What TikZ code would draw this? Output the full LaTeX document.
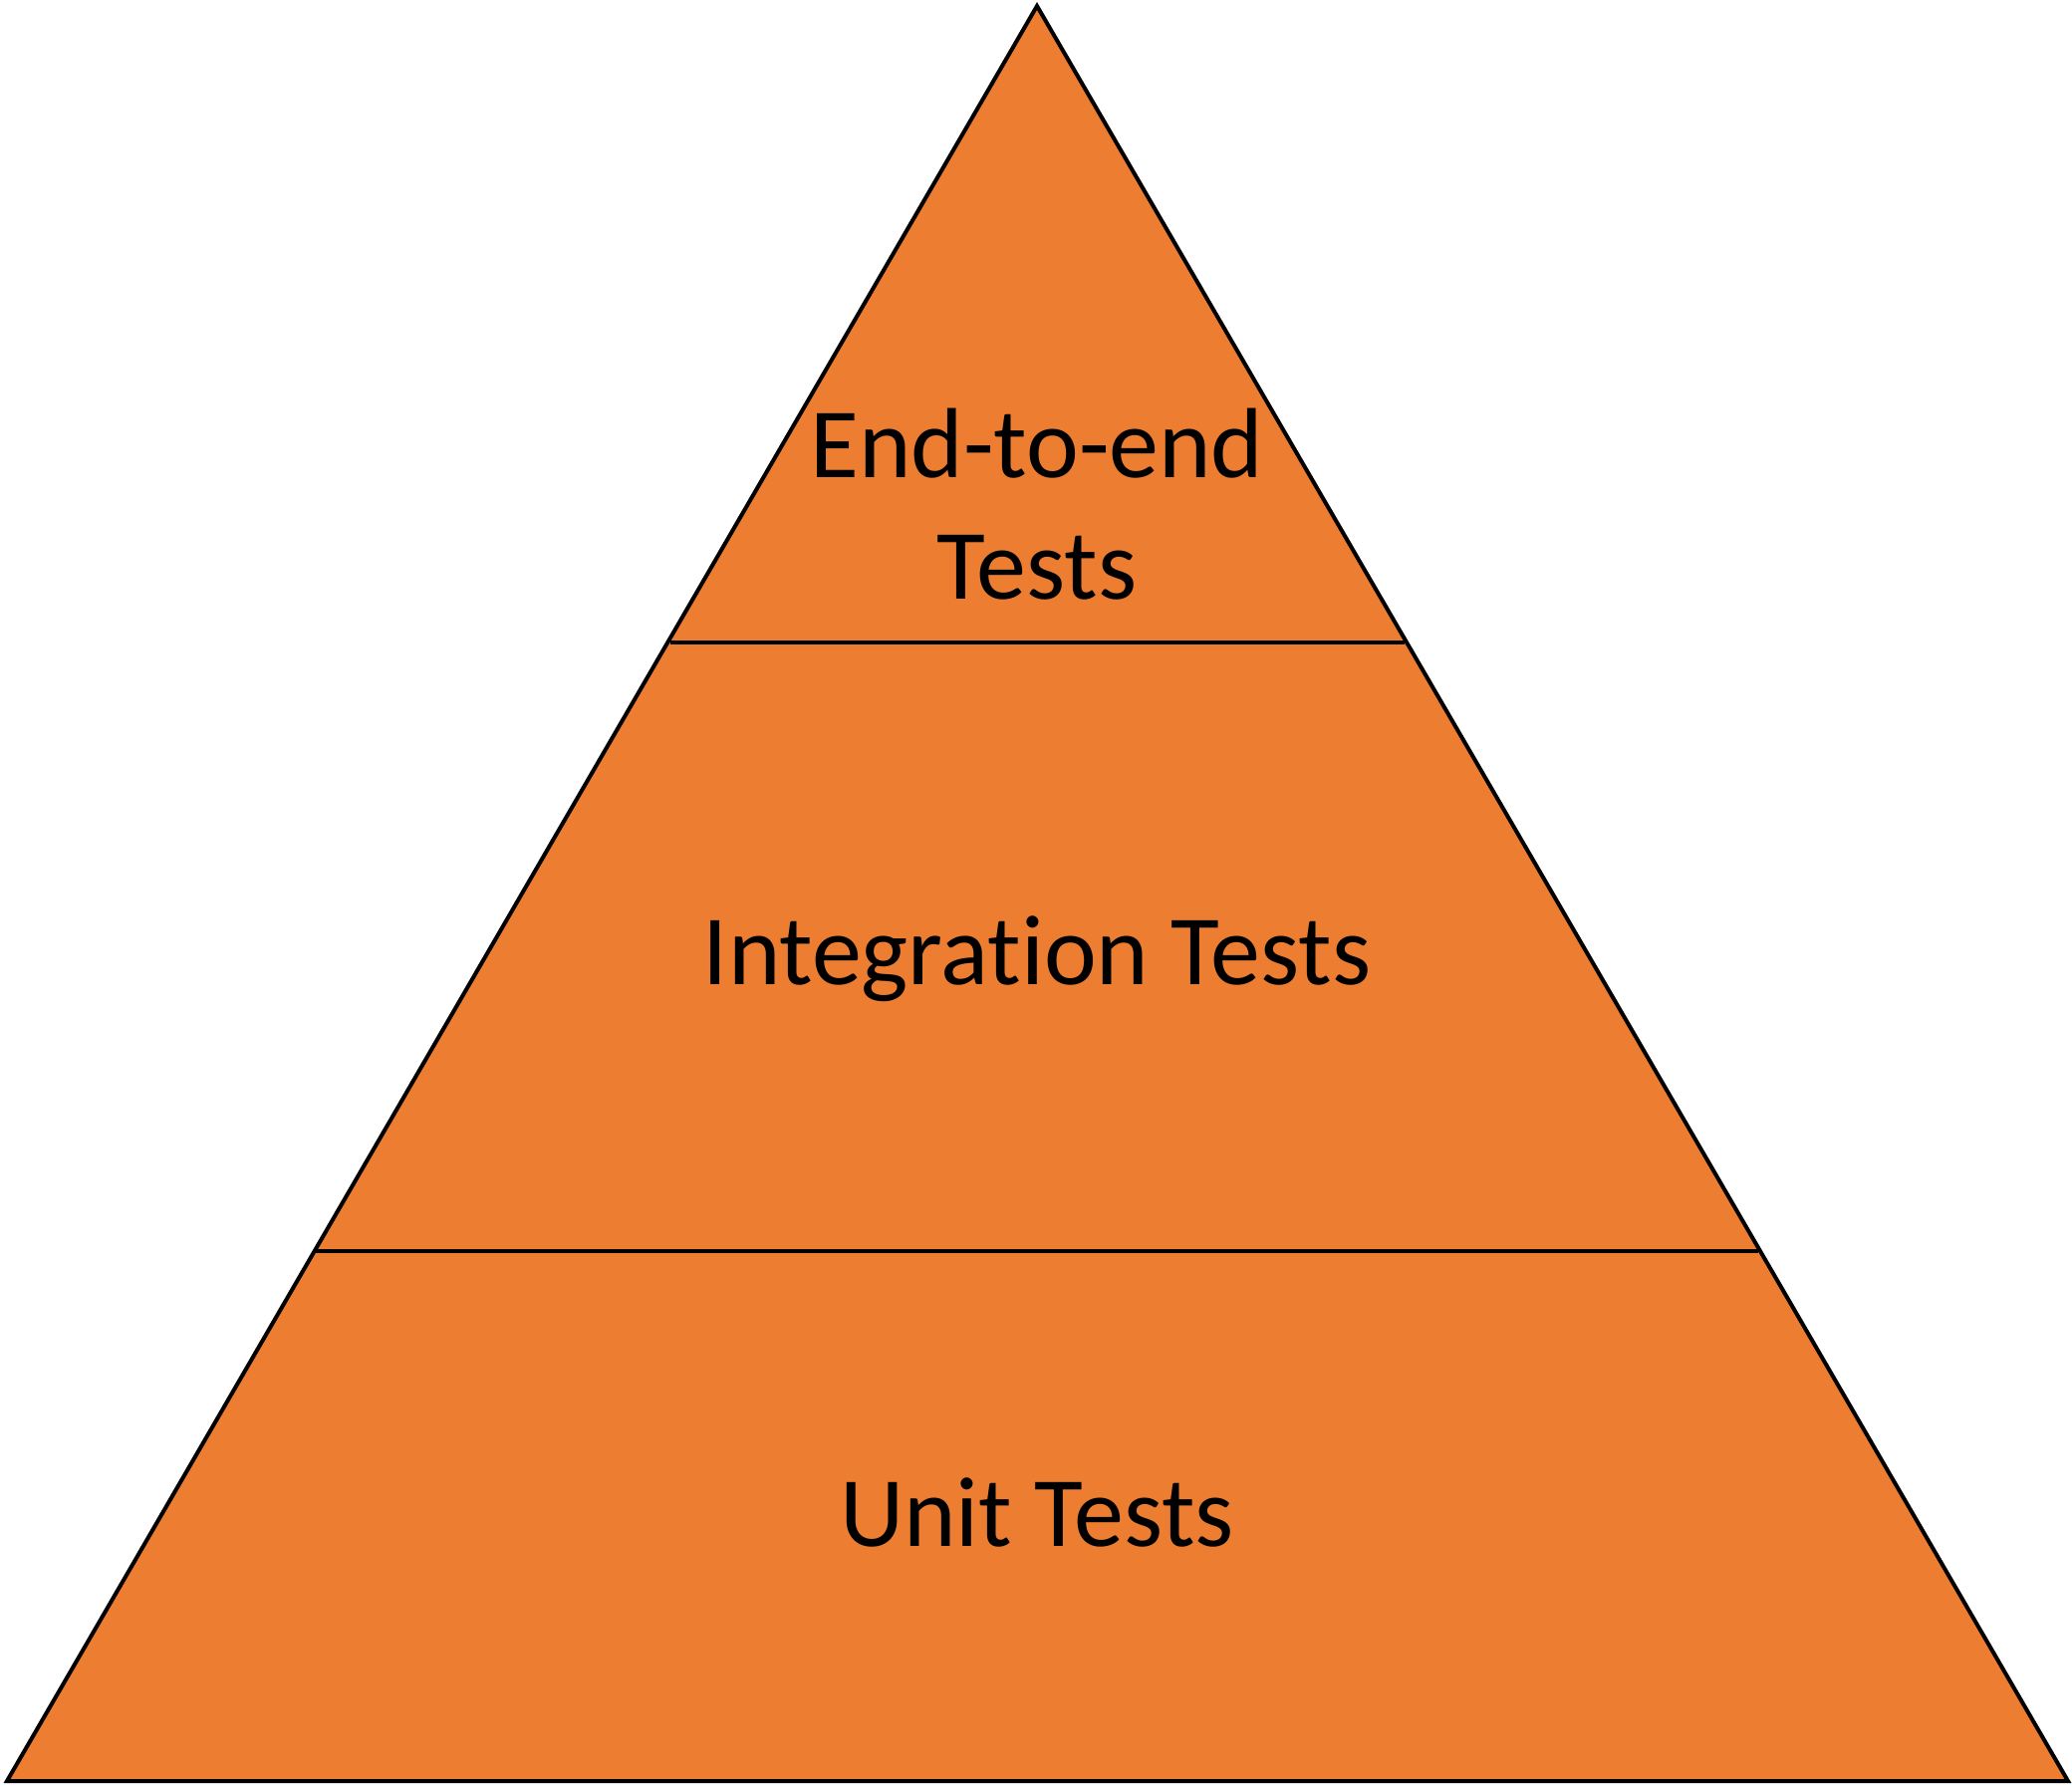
\documentclass[tikz,border=0pt]{standalone}
\usepackage{fontspec}
\setmainfont{Carlito}[Ligatures={NoCommon,NoRequired,NoContextual}]
\definecolor{pyrorange}{HTML}{ED7D31}
\begin{document}
\begin{tikzpicture}[x=1pt,y=-1pt,
  edge/.style={draw=black,line width=4pt,line join=miter},
  label/.style={font=\fontsize{100}{122}\selectfont,text=black,inner sep=0pt,anchor=base,align=center}]
\useasboundingbox (0,0) rectangle (2080,1792);
\coordinate (apex) at (1041,6);
\coordinate (bl) at (7,1788);
\coordinate (br) at (2076,1788);
\coordinate (l1) at (672.6,645);
\coordinate (r1) at (1409.5,645);
\coordinate (l2) at (315.7,1256);
\coordinate (r2) at (1764.5,1256);
\fill[pyrorange] (apex) -- (br) -- (bl) -- cycle;
\draw[edge] (l1) -- (r1);
\draw[edge] (l2) -- (r2);
\draw[edge] (apex) -- (br) -- (bl) -- cycle;
\node[label] (e2e) at (1041,601) {End-to-end\\Tests};
\node[label] (integ) at (1041,988) {Integration Tests};
\node[label] (unit) at (1041,1552) {Unit Tests};
\end{tikzpicture}
\end{document}
